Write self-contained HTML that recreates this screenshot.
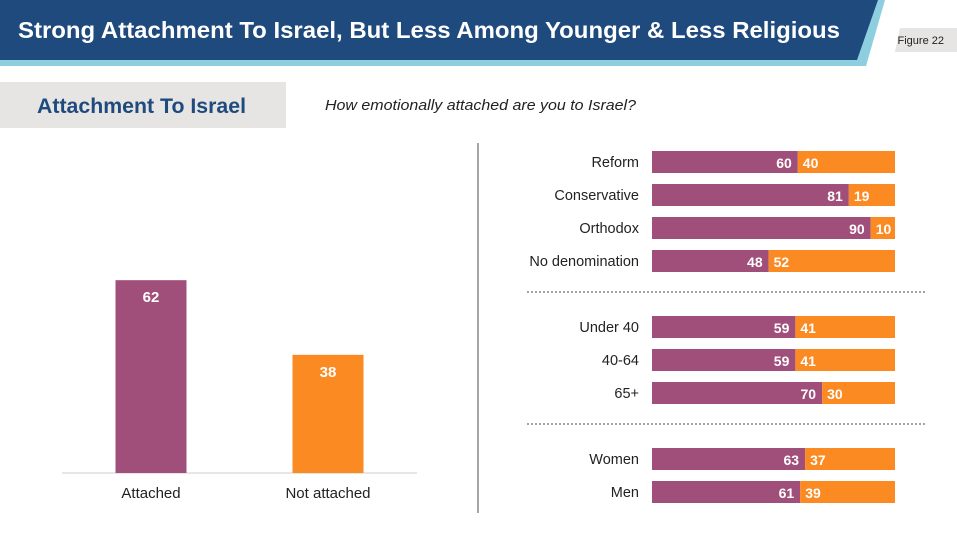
<!DOCTYPE html>
<html><head><meta charset="utf-8"><style>
body{margin:0;width:957px;height:537px;background:#fff;font-family:"Liberation Sans",sans-serif;overflow:hidden;position:relative}
.a{position:absolute}
</style></head><body>
<svg class="a" style="left:0;top:0" width="957" height="537">
<polygon points="0,0 885,0 866,66 0,66" fill="#8ecfdf"/>
<polygon points="0,0 878,0 857,60 0,60" fill="#1f4a7d"/>
<text x="18" y="38" font-size="23" font-weight="bold" fill="#fff" textLength="822" lengthAdjust="spacingAndGlyphs">Strong Attachment To Israel, But Less Among Younger &amp; Less Religious</text>
<polygon points="900,28 957,28 957,52 895,52" fill="#e6e5e4"/>
<text x="944" y="44" font-size="11" fill="#222" text-anchor="end">Figure 22</text>
<rect x="0" y="82" width="286" height="46" fill="#e6e5e4"/>
<text x="37" y="113" font-size="21" font-weight="bold" fill="#1f4a7d" textLength="209" lengthAdjust="spacingAndGlyphs">Attachment To Israel</text>
<text x="325" y="110" font-size="15" font-style="italic" fill="#222" textLength="311" lengthAdjust="spacingAndGlyphs">How emotionally attached are you to Israel?</text>
<line x1="478" y1="143" x2="478" y2="513" stroke="#888" stroke-width="1.5"/>
<g id="left"></g><g id="right"></g>
</svg>
<script>
const NS="http://www.w3.org/2000/svg";
const leftCats=["Attached","Not attached"];
const leftVals=[62,38];
const leftColors=["#a04f7a","#fb8a23"];
const rightCats=["Reform","Conservative","Orthodox","No denomination","Under 40","40-64","65+","Women","Men"];
const attached=[60,81,90,48,59,59,70,63,61];
const notAttached=[40,19,10,52,41,41,30,37,39];
const groupOf=[0,0,0,0,1,1,1,2,2];
function mk(t,a,p){const e=document.createElementNS(NS,t);for(const k in a)e.setAttribute(k,a[k]);p.appendChild(e);return e;}
const L=document.getElementById('left'),R=document.getElementById('right');
const base=473,yS=v=>base-v*3.11;
const axis=mk('line',{x1:62,y1:base,x2:417,y2:base,stroke:'#ccc'},L);


leftCats.forEach((c,i)=>{const cx=151+i*177;
const r=mk('rect',{x:cx-35.5,y:yS(leftVals[i]),width:71,height:base-yS(leftVals[i]),fill:leftColors[i]},L);


const v=mk('text',{x:cx,y:yS(leftVals[i])+22,'font-size':15,'font-weight':'bold',fill:'#fff','text-anchor':'middle'},L);v.textContent=leftVals[i];


const t=mk('text',{x:cx,y:498,'font-size':15,fill:'#222','text-anchor':'middle'},L);t.textContent=c;

});
const x0=652,W=243,xS=v=>v*W/100;
let y=151;
rightCats.forEach((c,i)=>{if(i>0&&groupOf[i]!==groupOf[i-1]){const dl=mk('line',{x1:527,y1:y+9,x2:925,y2:y+9,stroke:'#444','stroke-dasharray':'2,2'},R);

y+=33;}
const wa=xS(attached[i]),wn=xS(notAttached[i]);
const a=mk('rect',{x:x0,y:y,width:wa,height:22,fill:'#a04f7a'},R);


const n=mk('rect',{x:x0+wa,y:y,width:wn,height:22,fill:'#fb8a23'},R);


const ta=mk('text',{x:x0+wa-6,y:y+17,'font-size':14,'font-weight':'bold',fill:'#fff','text-anchor':'end'},R);ta.textContent=attached[i];


const tn=mk('text',{x:x0+wa+5,y:y+17,'font-size':14,'font-weight':'bold',fill:'#fff'},R);tn.textContent=notAttached[i];


const lb=mk('text',{x:639,y:y+16,'font-size':14.5,fill:'#222','text-anchor':'end'},R);lb.textContent=c;


y+=33;});
</script>
</body></html>
